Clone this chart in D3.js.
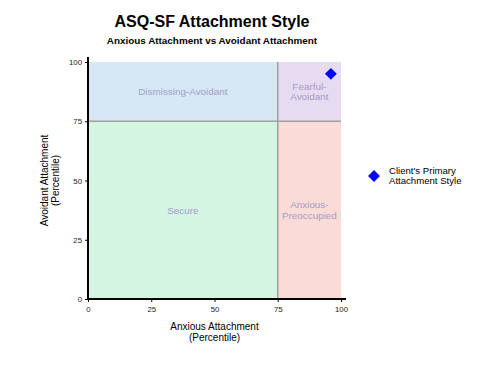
<!DOCTYPE html>
<html>
<head>
<meta charset="utf-8">
<script src="https://cdn.jsdelivr.net/npm/d3@7"></script>
<style>
  body { margin: 0; background: #fff; font-family: "Liberation Sans", Arial, sans-serif; }
</style>
</head>
<body>
<div id="chart"></div>
<script>
var width = 480;
var height = 382;

// quadrant regions (x from..to, y from..to in percentile)
var regionNames = ["Dismissing-Avoidant", "Fearful-\nAvoidant", "Secure", "Anxious-\nPreoccupied"];
var regionX0 = [0, 75, 0, 75];
var regionX1 = [75, 100, 75, 100];
var regionY0 = [75, 75, 0, 0];
var regionY1 = [100, 100, 75, 75];
var regionColors = ["#d6e7f5", "#e6dbf0", "#d5f5e3", "#fadbd8"];

var tickValues = [0, 25, 50, 75, 100];
var clientPoint = [{ x: 96, y: 95 }];

var margin = { left: 88, top: 62, right: 139, bottom: 83 };

var svg = d3.select("#chart").append("svg")
  .attr("width", width)
  .attr("height", height);

var x = d3.scaleLinear().domain([0, 100]).range([margin.left, width - margin.right]);
var y = d3.scaleLinear().domain([0, 100]).range([height - margin.bottom, margin.top]);

svg.append("text")
  .attr("x", 212).attr("y", 27)
  .attr("text-anchor", "middle")
  .attr("font-size", "16px").attr("font-weight", "bold")
  .text("ASQ-SF Attachment Style");

svg.append("text")
  .attr("x", 212).attr("y", 44)
  .attr("text-anchor", "middle")
  .attr("font-size", "9.9px").attr("font-weight", "bold")
  .text("Anxious Attachment vs Avoidant Attachment");

svg.selectAll("rect.region")
  .data(regionNames)
  .enter()
  .append("rect")
  .attr("class", "region")
  .attr("x", (d, i) => x(regionX0[i]))
  .attr("y", (d, i) => y(regionY1[i]))
  .attr("width", (d, i) => x(regionX1[i]) - x(regionX0[i]))
  .attr("height", (d, i) => y(regionY0[i]) - y(regionY1[i]))
  .attr("fill", (d, i) => regionColors[i]);

// divider lines
svg.append("line")
  .attr("x1", x(75)).attr("x2", x(75))
  .attr("y1", y(0)).attr("y2", y(100))
  .attr("stroke", "#a0a0a0").attr("stroke-width", 1.5);
svg.append("line")
  .attr("x1", x(0)).attr("x2", x(100))
  .attr("y1", y(75)).attr("y2", y(75))
  .attr("stroke", "#a0a0a0").attr("stroke-width", 1.5);

var labels = svg.selectAll("text.region")
  .data(regionNames)
  .enter()
  .append("text")
  .attr("class", "region")
  .attr("text-anchor", "middle")
  .attr("font-size", "9.9px")
  .attr("fill", "#a59bc9")
  .attr("transform", (d, i) => "translate(" + x((regionX0[i] + regionX1[i]) / 2) + "," + y((regionY0[i] + regionY1[i]) / 2) + ")");
labels.each(function (d) {
  var lines = d.split("\n");
  var t = d3.select(this);
  lines.forEach(function (l, j) {
    t.append("tspan")
      .attr("x", 0)
      .attr("y", (j - (lines.length - 1) / 2) * 10.5 + 3.5)
      .text(l);
  });
});

// axes
var xAxis = svg.append("g")
  .attr("transform", "translate(0," + y(0) + ")")
  .call(d3.axisBottom(x).tickValues(tickValues).tickSize(3).tickSizeOuter(0));
var yAxis = svg.append("g")
  .attr("transform", "translate(" + x(0) + ",0)")
  .call(d3.axisLeft(y).tickValues(tickValues).tickSize(3).tickSizeOuter(0));
[xAxis, yAxis].forEach(function (a) {
  a.select(".domain").remove();
  a.selectAll("text").attr("font-size", "7.8px").attr("font-family", "Liberation Sans, Arial, sans-serif").attr("fill", "#222");
});
xAxis.selectAll("text").attr("dy", "0.9em");
svg.append("line")
  .attr("x1", x(0)).attr("x2", x(100) + 5)
  .attr("y1", y(0)).attr("y2", y(0))
  .attr("stroke", "#000").attr("stroke-width", 2);
svg.append("line")
  .attr("x1", x(0)).attr("x2", x(0))
  .attr("y1", y(0)).attr("y2", y(100) - 5)
  .attr("stroke", "#000").attr("stroke-width", 2);

svg.append("text")
  .attr("x", x(50)).attr("y", 330)
  .attr("text-anchor", "middle")
  .attr("font-size", "10px")
  .selectAll("tspan")
  .data(["Anxious Attachment", "(Percentile)"])
  .enter().append("tspan")
  .attr("x", x(50))
  .attr("dy", (d, i) => i ? "1.05em" : 0)
  .text(d => d);

svg.append("text")
  .attr("transform", "translate(48," + y(50) + ") rotate(-90)")
  .attr("text-anchor", "middle")
  .attr("font-size", "10px")
  .selectAll("tspan")
  .data(["Avoidant Attachment", "(Percentile)"])
  .enter().append("tspan")
  .attr("x", 0)
  .attr("dy", (d, i) => i ? "1.05em" : 0)
  .text(d => d);

var diamond = d3.symbol().type(d3.symbolSquare).size(70);
svg.selectAll("path.point")
  .data(clientPoint)
  .enter()
  .append("path")
  .attr("class", "point")
  .attr("d", diamond)
  .attr("transform", d => "translate(" + x(d.x) + "," + y(d.y) + ") rotate(45)")
  .attr("fill", "#0000ff");

// legend
svg.append("path")
  .attr("d", diamond)
  .attr("transform", "translate(374,176) rotate(45)")
  .attr("fill", "#0000ff");
svg.append("text")
  .attr("font-size", "9.6px")
  .selectAll("tspan")
  .data(["Client's Primary", "Attachment Style"])
  .enter().append("tspan")
  .attr("x", 389)
  .attr("y", (d, i) => 174 + i * 10)
  .text(d => d);
</script>
</body>
</html>
